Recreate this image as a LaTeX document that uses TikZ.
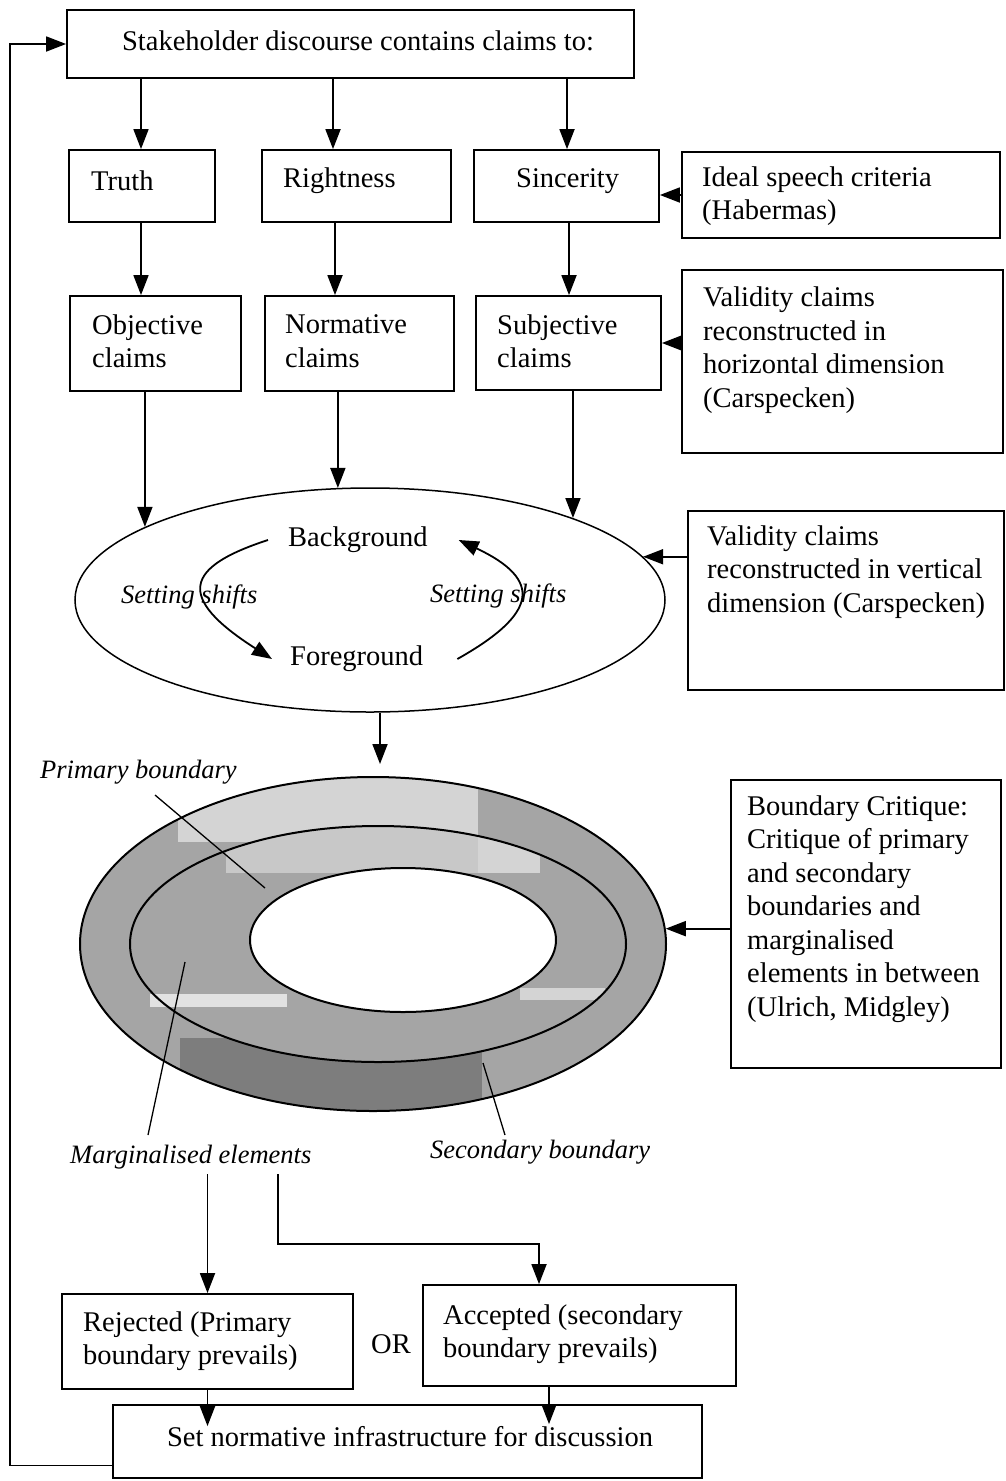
\documentclass[tikz,border=0pt]{standalone}
\usepackage{fontspec}
\setmainfont{Liberation Serif}
\usetikzlibrary{arrows.meta,shapes.geometric,calc}

\definecolor{ringbase}{RGB}{165,165,165}
\definecolor{ringlight}{RGB}{212,212,212}
\definecolor{ringpale}{RGB}{200,200,200}
\definecolor{ringdark}{RGB}{125,125,125}
\definecolor{ringstreak}{RGB}{226,226,226}

\begin{document}
\begin{tikzpicture}[x=1pt,y=-1pt,
  font=\fontsize{28.5}{33.5}\selectfont,
  box/.style={draw, line width=1.8pt, rectangle, inner sep=0pt},
  txt/.style={inner sep=0pt, anchor=west, align=left},
  lbl/.style={inner sep=0pt, anchor=west, font=\fontsize{26.5}{31}\selectfont\itshape},
  arr/.style={line width=1.8pt, -{Triangle[length=20pt,width=15pt]}},
  lead/.style={line width=1.3pt},
  ringline/.style={draw, ellipse, line width=2pt, inner sep=0pt},
]
\useasboundingbox (0,0) rectangle (1005,1481);

% ---------- boxes ----------
\node[box, minimum width=567pt, minimum height=68pt] (top)   at (350.5,44) {};
\node[box, minimum width=146pt, minimum height=72pt] (truth) at (142,186) {};
\node[box, minimum width=189pt, minimum height=72pt] (right) at (356.5,186) {};
\node[box, minimum width=185pt, minimum height=72pt] (sinc)  at (566.5,186) {};
\node[box, minimum width=318pt, minimum height=86pt] (ideal) at (841,195) {};
\node[box, minimum width=171pt, minimum height=95pt] (obj)   at (155.5,343.5) {};
\node[box, minimum width=189pt, minimum height=95pt] (norm)  at (359.5,343.5) {};
\node[box, minimum width=185pt, minimum height=94pt] (subj)  at (568.5,343) {};
\node[box, minimum width=321pt, minimum height=183pt] (vh)   at (842.5,361.5) {};
\node[box, minimum width=316pt, minimum height=179pt] (vv)   at (846,600.5) {};
\node[box, minimum width=270pt, minimum height=288pt] (bc)   at (866,924) {};
\node[box, minimum width=291pt, minimum height=95pt] (rej)   at (207.5,1341.5) {};
\node[box, minimum width=313pt, minimum height=101pt] (acc)  at (579.5,1335.5) {};
\node[box, minimum width=589pt, minimum height=73pt] (bot)   at (407.5,1441.5) {};

% ---------- box texts ----------
\node[inner sep=0pt] (toptxt) at (358,41) {Stakeholder discourse contains claims to:};
\node[txt] (truthtxt) at (91,181) {Truth};
\node[txt] (righttxt) at (283,181) {Rightness};
\node[txt] (sinctxt)  at (516,181) {Sincerity};
\node[txt] (idealtxt) at (702,196) {Ideal speech criteria\\(Habermas)};
\node[txt] (objtxt)   at (92,341) {Objective\\claims};
\node[txt] (normtxt)  at (285,341) {Normative\\claims};
\node[txt] (subjtxt)  at (497,341) {Subjective\\claims};
\node[txt] (vhtxt)    at (703,350) {Validity claims\\reconstructed in\\horizontal dimension\\(Carspecken)};
\node[txt] (vvtxt)    at (707,572) {Validity claims\\reconstructed in vertical\\dimension (Carspecken)};
\node[txt] (bctxt)    at (747,909) {Boundary Critique:\\Critique of primary\\and secondary\\boundaries and\\marginalised\\elements in between\\(Ulrich, Midgley)};
\node[txt] (rejtxt)   at (83,1341) {Rejected (Primary\\boundary prevails)};
\node[txt] (acctxt)   at (443,1334) {Accepted (secondary\\boundary prevails)};
\node[inner sep=0pt] (bottxt) at (410,1437) {Set normative infrastructure for discussion};
\node[inner sep=0pt] (or) at (391,1344) {OR};

% ---------- discourse ellipse ----------
\node[draw, ellipse, line width=1.5pt, inner sep=0pt,
      minimum width=590pt, minimum height=224pt] (ell) at (370,600) {};
\node[txt] (bg) at (288,540) {Background};
\node[txt] (fg) at (290,659) {Foreground};
\node[lbl] (ss1) at (121,597) {Setting shifts};
\node[lbl] (ss2) at (430,596) {Setting shifts};

\draw[arr] ([xshift=-20pt]bg.west) .. controls +(-83,27) and +(-97,-62) .. ([xshift=-18pt]fg.west);
\draw[arr] ([xshift=34pt]fg.east) .. controls +(80,-45) and +(85,40) .. ([xshift=31pt]bg.east);

% ---------- boundary ring ----------
\fill[ringbase] (373,944) ellipse [x radius=293, y radius=167];
\begin{scope}
  \clip (373,944) ellipse [x radius=293, y radius=167];
  \fill[ringlight] (178,760) rectangle (478,842);
  \fill[ringdark] (180,1038) rectangle (482,1125);
  \fill[ringstreak] (150,994) rectangle (170,1007);
\end{scope}
\fill[ringbase] (378,944) ellipse [x radius=248, y radius=118];
\begin{scope}
  \clip (378,944) ellipse [x radius=248, y radius=118];
  \fill[ringpale] (226,815) rectangle (478,873);
  \fill[ringlight] (478,815) rectangle (540,873);
  \fill[ringstreak] (150,994) rectangle (287,1007);
  \fill[ringlight] (520,988) rectangle (605,1000);
\end{scope}
\fill[white] (403,940) ellipse [x radius=153, y radius=72];

\node[ringline, minimum width=586pt, minimum height=334pt] (ring) at (373,944) {};
\node[ringline, minimum width=496pt, minimum height=236pt] (mid)  at (378,944) {};
\node[ringline, minimum width=306pt, minimum height=144pt] (inner) at (403,940) {};

% ---------- ring labels and leaders ----------
\node[lbl] (pb) at (40,772) {Primary boundary};
\node[lbl] (marg) at (70,1157) {Marginalised elements};
\node[lbl] (sb) at (430,1152) {Secondary boundary};
\coordinate (pbA) at (155,795);
\coordinate (pbB) at (265,888);
\coordinate (mgA) at (148,1135);
\coordinate (mgB) at (185,962);
\coordinate (sbA) at (505,1135);
\coordinate (sbB) at (483,1063);
\draw[lead] (pbA) -- (pbB);
\draw[lead] (mgA) -- (mgB);
\draw[lead] (sbA) -- (sbB);

% ---------- column guides ----------
\coordinate (x141) at (141,0);
\coordinate (x333) at (333,0);
\coordinate (x335) at (335,0);
\coordinate (x567) at (567,0);
\coordinate (x569) at (569,0);
\coordinate (x380) at (380,0);
\coordinate (x549) at (549,0);
\coordinate (k1) at (278,1244);
\coordinate (k2) at (539,1244);
\coordinate (fb) at (10,0);

% ---------- connectors ----------
\draw[arr] (top.south -| x141) -- (truth.north -| x141);
\draw[arr] (top.south -| x333) -- (right.north -| x333);
\draw[arr] (top.south -| x567) -- (sinc.north -| x567);

\draw[arr] (truth.south -| x141) -- (obj.north -| x141);
\draw[arr] (right.south -| x335) -- (norm.north -| x335);
\draw[arr] (sinc.south -| x569) -- (subj.north -| x569);

\draw[arr] (ideal.west) -- (ideal.west -| sinc.east);
\draw[arr] (vh.west |- subj.east) -- (subj.east);

\draw[arr] (obj.south -| ell.162) -- (ell.162);
\draw[arr] (norm.south -| ell.106) -- (ell.106);
\draw[arr] (subj.south -| ell.22) -- (ell.22);
\draw[arr] (vv.west |- ell.9) -- (ell.9);

\draw[arr] (ell.south -| x380) -- ($(ring.north -| x380)+(0,-12)$);
\draw[arr] (bc.west |- ring.3) -- (ring.3);

\draw[arr] ($(marg.south -| rej.north)+(0,5)$) -- (rej.north);
\draw[arr] ($(marg.south -| k1)+(0,5)$) -- (k1) -- (k2) -- (k2 |- acc.north);

\draw[arr] (rej.south) -- ($(rej.south |- bot.north)+(0,22)$);
\draw[arr] (acc.south -| x549) -- ($(bot.north -| x549)+(0,20)$);

\draw[arr] ($(bot.west)+(0,24)$) -- ($(bot.west -| fb)+(0,24)$) -- (fb |- top.west) -- (top.west);
\end{tikzpicture}
\end{document}
